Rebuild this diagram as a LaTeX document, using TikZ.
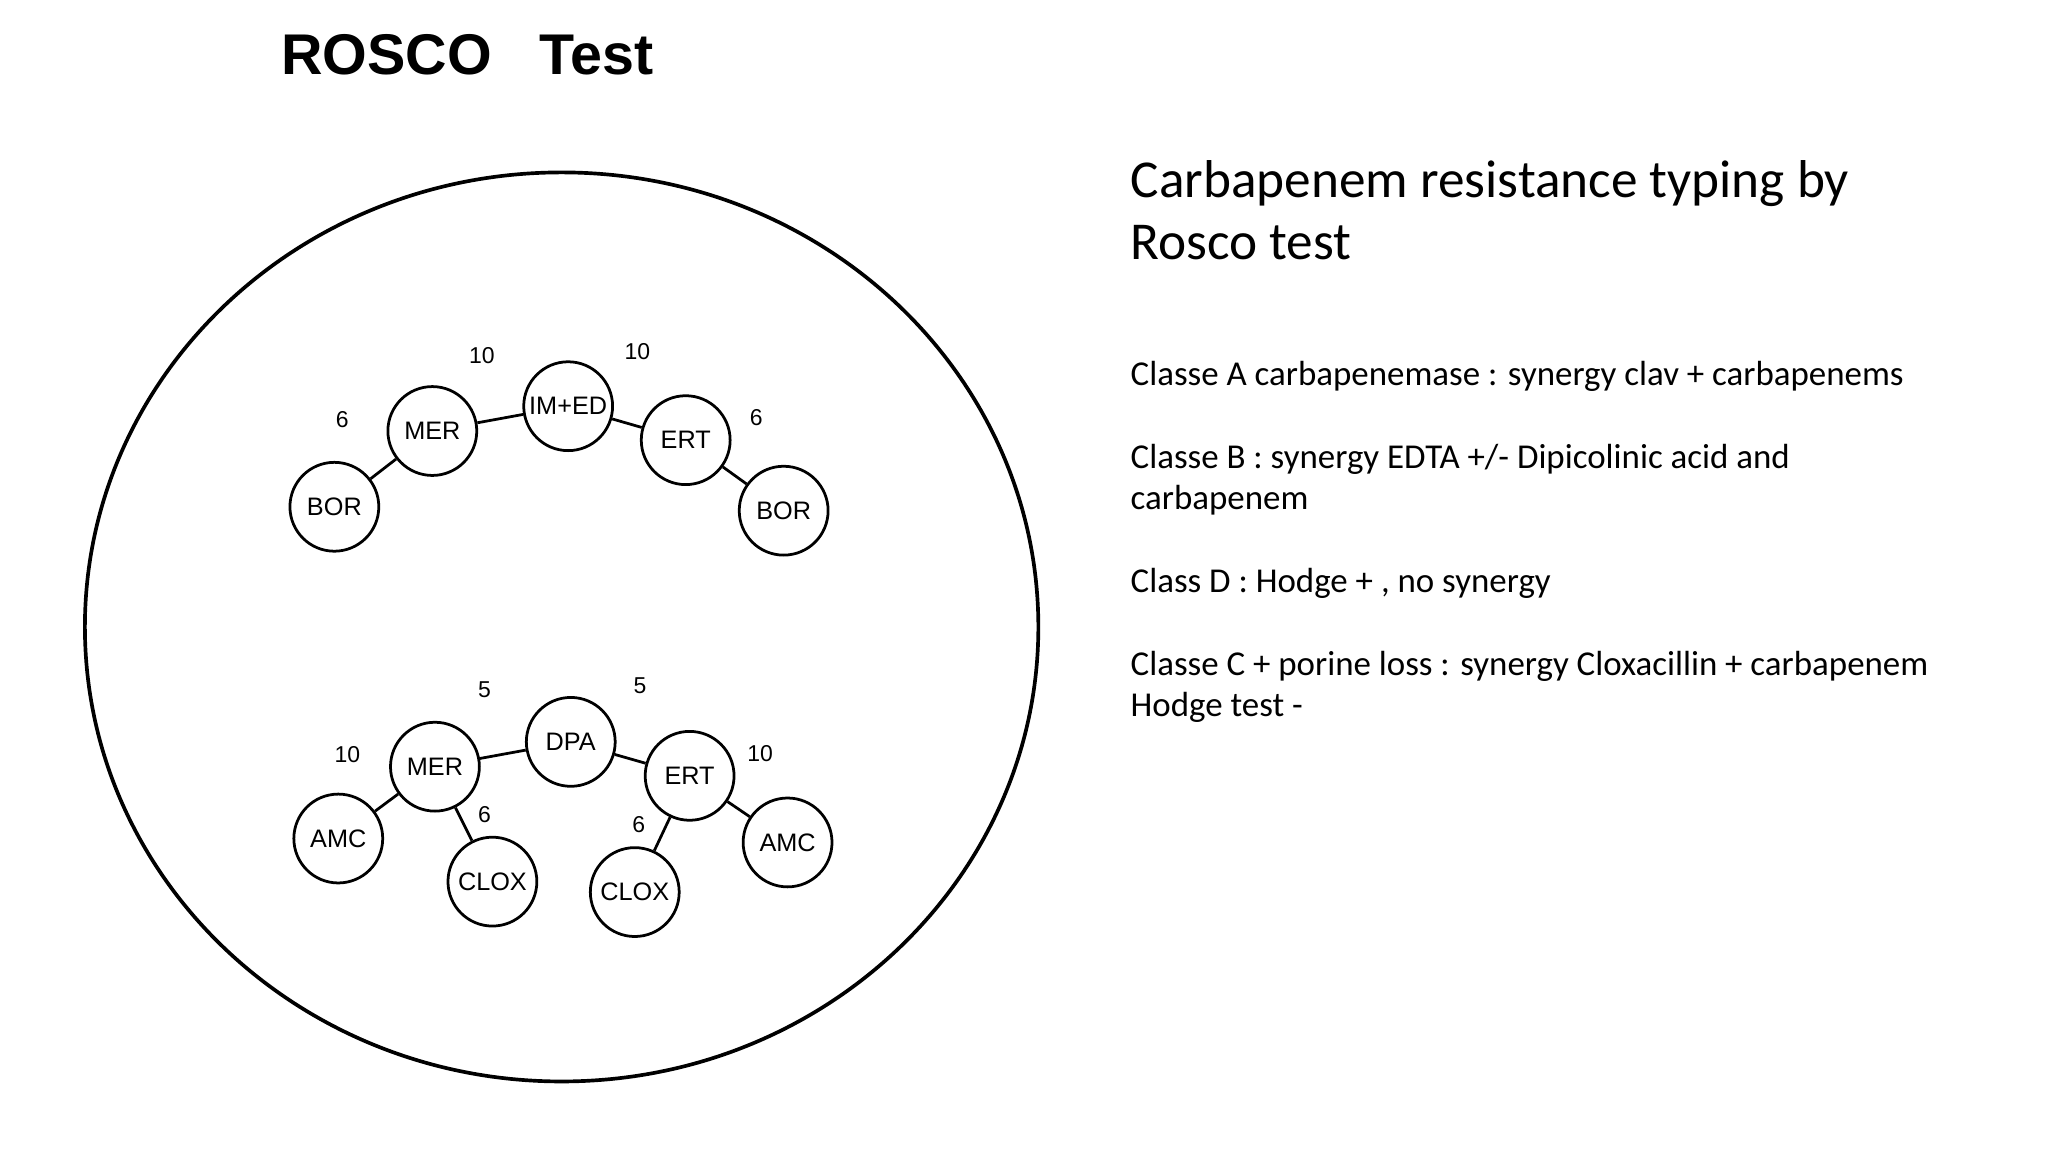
\documentclass[tikz,border=0pt]{standalone}
\usepackage{fontspec}
\setmainfont{Carlito}
\newfontfamily\arial{Liberation Sans}
\begin{document}
\begin{tikzpicture}[x=0.01cm,y=-0.01cm,
  disc/.style={circle,draw,line width=0.6pt,minimum size=0.68cm,inner sep=0pt,font=\arial\fontsize{5.5}{6}\selectfont},
  num/.style={font=\arial\fontsize{5}{6}\selectfont},
  link/.style={line width=0.6pt}]
\useasboundingbox (0,0) rectangle (1568,882);
\node[font=\arial\fontsize{12.5}{14}\bfseries\selectfont] (title) at (358,42) {ROSCO\ \ \ Test};
\draw[line width=0.8pt] (430,480) ellipse [x radius=365, y radius=348];
% top row
\node[disc] (b1) at (256,388) {BOR};
\node[disc] (m1) at (331,330) {MER};
\node[disc] (ie) at (435,311) {IM+ED};
\node[disc] (e1) at (525,337) {ERT};
\node[disc] (b2) at (600,391) {BOR};
\draw[link] (b1)--(m1) (m1)--(ie) (ie)--(e1) (e1)--(b2);
\node[num] (n1) at (262,321) {6};
\node[num] (n2) at (369,272) {10};
\node[num] (n3) at (488,269) {10};
\node[num] (n4) at (579,320) {6};
% bottom row
\node[disc] (a1) at (259,642) {AMC};
\node[disc] (m2) at (333,587) {MER};
\node[disc] (dp) at (437,568) {DPA};
\node[disc] (e2) at (528,594) {ERT};
\node[disc] (a2) at (603,645) {AMC};
\node[disc] (c1) at (377,675) {CLOX};
\node[disc] (c2) at (486,683) {CLOX};
\draw[link] (a1)--(m2) (m2)--(dp) (dp)--(e2) (e2)--(a2) (m2)--(c1) (e2)--(c2);
\node[num] (n5) at (266,578) {10};
\node[num] (n6) at (371,528) {5};
\node[num] (n7) at (490,525) {5};
\node[num] (n8) at (582,577) {10};
\node[num] (n9) at (371,624) {6};
\node[num] (n10) at (489,631) {6};
% right text
\node[anchor=north west,align=left,font=\fontsize{11.6}{13.6}\selectfont,inner sep=0pt] (head) at (865,122)
 {Carbapenem resistance typing by\\Rosco test};
\node[anchor=north west,align=left,font=\fontsize{7.6}{9}\selectfont,inner sep=0pt] (body) at (865,276)
 {Classe A carbapenemase : synergy clav + carbapenems\\[9pt]
  Classe B : synergy EDTA +/- Dipicolinic acid and\\carbapenem\\[9pt]
  Class D : Hodge + , no synergy\\[9pt]
  Classe C + porine loss : synergy Cloxacillin + carbapenem\\Hodge test -};
\end{tikzpicture}
\end{document}
